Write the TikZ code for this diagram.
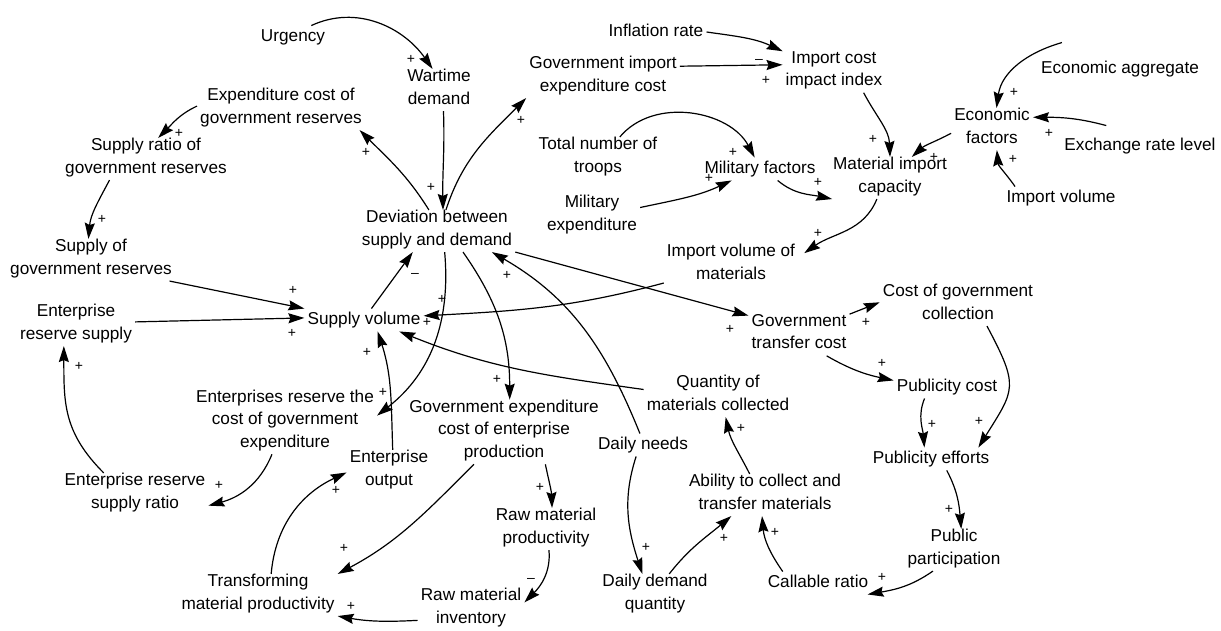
\documentclass[tikz,border=0pt]{standalone}
\usepackage{fontspec}
\setmainfont{Liberation Sans}
\usetikzlibrary{arrows.meta}
\begin{document}
\begin{tikzpicture}[x=1pt,y=1pt,
  var/.style={align=center, inner xsep=3pt, inner ysep=0pt,
    font=\fontsize{17.2}{22.5}\selectfont,
    execute at begin node=\strut, execute at end node=\strut},
  arr/.style={-{Stealth[length=16pt,width=10pt,inset=2pt]}, line width=1.2pt},
  pol/.style={font=\fontsize{14}{14}\selectfont, inner sep=0pt}]
\useasboundingbox (0,0) rectangle (1221,-630);
% ---------- variables ----------
\node[var] (urg)    at (293,-37)  {Urgency};
\node[var] (wart)   at (439,-90)  {Wartime\\demand};
\node[var] (expc)   at (281,-109) {Expenditure cost of\\government reserves};
\node[var] (sratio) at (146,-159) {Supply ratio of\\government reserves};
\node[var] (sgov)   at (91,-260)  {Supply of\\government reserves};
\node[var] (dev)    at (437,-231) {Deviation between\\supply and demand};
\node[var] (gimp)   at (603,-77)  {Government import\\expenditure cost};
\node[var] (infl)   at (656,-32)  {Inflation rate};
\node[var] (ici)    at (834,-72)  {Import cost\\impact index};
\node[var] (eagg)   at (1120,-69) {Economic aggregate};
\node[var] (efac)   at (992,-129) {Economic\\factors};
\node[var] (exch)   at (1140,-146) {Exchange rate level};
\node[var] (impv)   at (1061,-198) {Import volume};
\node[var] (troops) at (598,-158) {Total number of\\troops};
\node[var] (milf)   at (760,-169) {Military factors};
\node[var] (mic)    at (890,-178) {Material import\\capacity};
\node[var] (milexp) at (592,-216) {Military\\expenditure};
\node[var] (ivm)    at (731,-265) {Import volume of\\materials};
\node[var] (sv)     at (364,-320) {Supply volume};
\node[var] (ers)    at (76,-325)  {Enterprise\\reserve supply};
\node[var] (gtc)    at (799,-335) {Government\\transfer cost};
\node[var] (cgc)    at (958,-305) {Cost of government\\collection};
\node[var] (qmc)    at (718,-396) {Quantity of\\materials collected};
\node[var] (pubc)   at (947,-387) {Publicity cost};
\node[var] (ercg)   at (285,-422) {Enterprises reserve the\\cost of government\\expenditure};
\node[var] (geep)   at (504,-432) {Government expenditure\\cost of enterprise\\production};
\node[var] (eout)   at (389,-471) {Enterprise\\output};
\node[var] (dn)     at (643,-445) {Daily needs};
\node[var] (pube)   at (931,-459) {Publicity efforts};
\node[var] (ersr)   at (135,-494) {Enterprise reserve\\supply ratio};
\node[var] (act)    at (765,-495) {Ability to collect and\\transfer materials};
\node[var] (rmp)    at (546,-529) {Raw material\\productivity};
\node[var] (pp)     at (954,-550) {Public\\participation};
\node[var] (tmp)    at (258,-595) {Transforming\\material productivity};
\node[var] (rmi)    at (471,-609) {Raw material\\inventory};
\node[var] (ddq)    at (655,-595) {Daily demand\\quantity};
\node[var] (call)   at (818,-583) {Callable ratio};
% ---------- links ----------
\draw[arr] (urg.32) to[out=25,in=125] (wart.107);
\draw[arr] (wart.-78) to[out=-88,in=91] (dev.74);
\draw[arr] (dev.111) to[out=122,in=-45] (expc.-15);
\draw[arr] (expc.178) to[out=205,in=45] (sratio.60);
\draw[arr] (sratio.-150) to[out=-118,in=85] (sgov.97);
\draw[arr] (sgov.-15) -- (sv.north west);
\draw[arr] (ers.3) -- (sv.178);
\draw[arr] (sv.57) -- (dev.-139);
\draw[arr] (ivm.-165) to[out=195,in=3] (sv.4.5);
\draw[arr] (dev.67) to[out=72,in=-135] (gimp.south west);
\draw[arr] (infl.east) to[out=-8,in=155] (ici.158);
\draw[arr] (gimp.8) -- (ici.172);
\draw[arr] (ici.-35) to[out=-62,in=92] (mic.90);
\draw[arr] ([shift={(24,15)}]eagg.north west) to[out=196,in=82] (efac.78);
\draw[arr] ([shift={(45,9)}]exch.north west) to[out=165,in=0] (efac.16);
\draw[arr] (impv.166) to[out=125,in=-85] (efac.-77);
\draw[arr] (efac.-174) to[out=208,in=42] (mic.44);
\draw[arr] (troops.44) to[out=50,in=118] (milf.115);
\draw[arr] (milexp.10) to[out=12,in=-155] (milf.-158);
\draw[arr] (milf.-33) to[out=-40,in=168] (mic.-160);
\draw[arr] (mic.-122) to[out=-112,in=35] ([xshift=6]ivm.10);
\draw[arr] (dev.south east) -- (gtc.159);
\draw[arr] (gtc.north east) -- (cgc.178);
\draw[arr] (gtc.-37) to[out=-30,in=168] (pubc.173);
\draw[arr] (pubc.-153) to[out=-112,in=95] (pube.120);
\draw[arr] (cgc.-36) to[out=-62,in=58,looseness=1.45] ([xshift=-14]pube.north east);
\draw[arr] (pube.-36) to[out=-62,in=95] (pp.71);
\draw[arr] (pp.-135) to[out=-145,in=10] (call.-13);
\draw[arr] (call.162) to[out=125,in=-85] (act.-98);
\draw[arr] (act.126) to[out=117,in=-78] (qmc.-70);
\draw[arr] (qmc.175) to[out=172,in=-22] (sv.-18);
\draw[arr] (dn.105) to[out=112,in=-30] (dev.-21);
\draw[arr] (dn.-121) to[out=-108,in=108] (ddq.121);
\draw[arr] (ddq.56) to[out=52,in=-140] (act.-148);
\draw[arr] (dev.-70) to[out=-85,in=38] (ercg.4);
\draw[arr] (dev.-39) to[out=-55,in=90] (geep.80);
\draw[arr] (eout.80) to[out=92,in=-72] (sv.-40);
\draw[arr] (tmp.58) to[out=85,in=-155] (eout.182);
\draw[arr] (geep.-133) to[out=225,in=28] (tmp.north east);
\draw[arr] (ercg.-112) to[out=-112,in=15] (ersr.-9);
\draw[arr] (ersr.146) to[out=135,in=-90,looseness=1.1] (ers.-120);
\draw[arr] (geep.-38) to[out=-78,in=92] (rmp.74);
\draw[arr] (rmp.-82) to[out=-85,in=45] (rmi.7);
\draw[arr] (rmi.-168) to[out=183,in=-10] (tmp.south east);
% ---------- polarities ----------
\node[pol] (s1)  at (411,-59)  {+};
\node[pol] (s2)  at (431,-187) {+};
\node[pol] (s3)  at (366,-152) {+};
\node[pol] (s4)  at (179,-133) {+};
\node[pol] (s5)  at (102,-219) {+};
\node[pol] (s6)  at (293,-290) {+};
\node[pol] (s7)  at (292,-333) {+};
\node[pol] (s8)  at (415,-275) {–};
\node[pol] (s9)  at (442,-299) {+};
\node[pol] (s10) at (427,-322) {+};
\node[pol] (s11) at (521,-120) {+};
\node[pol] (s12) at (759,-61)  {–};
\node[pol] (s13) at (766,-80)  {+};
\node[pol] (s14) at (873,-139) {+};
\node[pol] (s15) at (1014,-92) {+};
\node[pol] (s16) at (1049,-133) {+};
\node[pol] (s17) at (1013,-159) {+};
\node[pol] (s18) at (934,-157) {+};
\node[pol] (s19) at (733,-152) {+};
\node[pol] (s20) at (709,-178) {+};
\node[pol] (s21) at (818,-182) {+};
\node[pol] (s22) at (818,-233) {+};
\node[pol] (s23) at (730,-329) {+};
\node[pol] (s24) at (866,-322) {+};
\node[pol] (s25) at (882,-363) {+};
\node[pol] (s26) at (932,-424) {+};
\node[pol] (s27) at (979,-421) {+};
\node[pol] (s28) at (949,-509) {+};
\node[pol] (s29) at (882,-577) {+};
\node[pol] (s30) at (775,-532) {+};
\node[pol] (s31) at (741,-428) {+};
\node[pol] (s32) at (507,-275) {+};
\node[pol] (s33) at (646,-547) {+};
\node[pol] (s34) at (724,-538) {+};
\node[pol] (s35) at (383,-392) {+};
\node[pol] (s36) at (497,-379) {+};
\node[pol] (s37) at (367,-352) {+};
\node[pol] (s38) at (336,-490) {+};
\node[pol] (s39) at (344,-548) {+};
\node[pol] (s40) at (219,-485) {+};
\node[pol] (s41) at (79,-366)  {+};
\node[pol] (s42) at (540,-487) {+};
\node[pol] (s43) at (531,-580) {–};
\node[pol] (s44) at (351,-606) {+};
\end{tikzpicture}
\end{document}
